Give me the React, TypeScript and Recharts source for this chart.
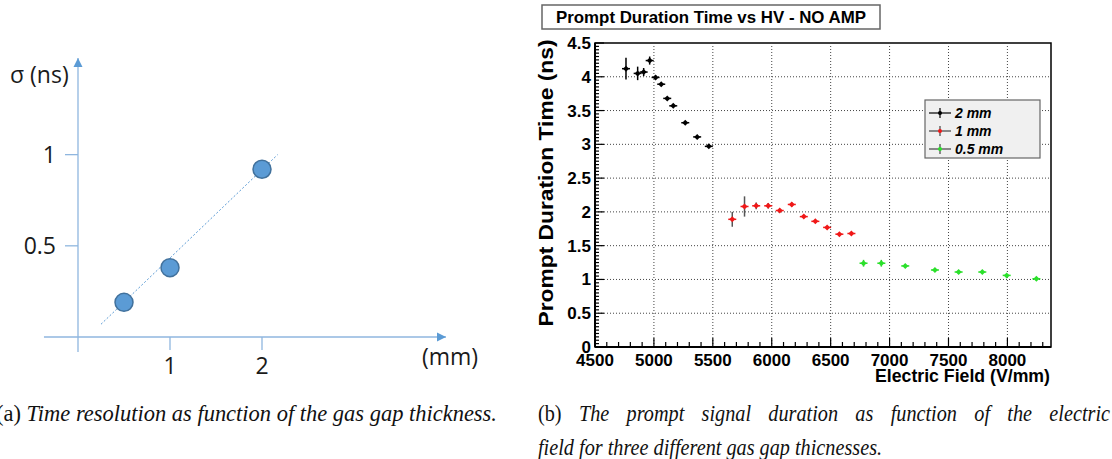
import React, { useLayoutEffect, useRef, useState } from "react";
import {
  ErrorBar,
  ReferenceArea,
  ReferenceDot,
  ReferenceLine,
  Scatter,
  ScatterChart,
  XAxis,
  YAxis,
} from "recharts";

// (a) time resolution vs gas gap thickness
const gapThickness = [0.5, 1, 2];
const timeResolution = [0.19, 0.38, 0.92];
const trendGap = [0.25, 2.17];
const trendSigma = [0.07, 1.0];
const gapTicks = [1, 2];
const sigmaTicks = [0.5, 1];

// (b) prompt duration vs electric field
const field2mm = [4763, 4862, 4913, 4964, 5014, 5062, 5113, 5164, 5266, 5367, 5466];
const time2mm = [4.12, 4.05, 4.07, 4.24, 3.99, 3.89, 3.68, 3.57, 3.32, 3.11, 2.97];
const err2mm = [0.16, 0.1, 0.06, 0.06, 0.03, 0.02, 0.02, 0.02, 0.02, 0.02, 0.02];

const field1mm = [5665, 5769, 5868, 5970, 6068, 6170, 6272, 6370, 6470, 6574, 6676];
const time1mm = [1.89, 2.08, 2.09, 2.09, 2.02, 2.11, 1.93, 1.86, 1.77, 1.67, 1.68];
const err1mm = [0.11, 0.15, 0.05, 0.04, 0.02, 0.03, 0.02, 0.02, 0.02, 0.02, 0.02];

const field05mm = [6779, 6930, 7133, 7385, 7586, 7787, 7994, 8246];
const time05mm = [1.24, 1.24, 1.2, 1.14, 1.11, 1.11, 1.06, 1.01];
const err05mm = [0.05, 0.05, 0.02, 0.02, 0.02, 0.02, 0.02, 0.02];

const fieldTicks = [4500, 5000, 5500, 6000, 6500, 7000, 7500, 8000];
const durationTicks = [0, 0.5, 1, 1.5, 2, 2.5, 3, 3.5, 4, 4.5];
const fieldMax = 8370;

const series = [
  { name: "2 mm", field: field2mm, time: time2mm, err: err2mm, color: "#000000", bar: "#000000" },
  { name: "1 mm", field: field1mm, time: time1mm, err: err1mm, color: "#f01818", bar: "#555555" },
  { name: "0.5 mm", field: field05mm, time: time05mm, err: err05mm, color: "#2be02b", bar: "#2bd02b" },
];

// minor ticks for the ROOT style axes
const fieldMinor: number[] = [];
for (let v = 4500; v <= 8300; v += 100) fieldMinor.push(v);
const durationMinor: number[] = [];
for (let i = 0; i <= 90; i++) durationMinor.push(Math.round(i * 5) / 100);

const gapData = gapThickness.map((g, i) => ({ gap: g, sigma: timeResolution[i] }));

const excelBlue = "#5b9bd5";
const excelAxis = "#8fb6df";
const rootFont = "'Liberation Sans', Arial, sans-serif";
const captionFont = "'Liberation Serif', 'Times New Roman', serif";
const captionScale = 0.88;

const FieldTick = (props: any) => {
  const { x, y, payload } = props;
  const v = payload.value;
  const major = fieldTicks.includes(v);
  return (
    <g>
      <line x1={x} x2={x} y1={y} y2={y - (major ? 9 : 5)} stroke="#000" strokeWidth={1.2} />
      {major && (
        <text x={x} y={y + 19} textAnchor="middle" fontFamily={rootFont} fontWeight="bold" fontSize={17} fill="#000">
          {v}
        </text>
      )}
    </g>
  );
};

const DurationTick = (props: any) => {
  const { x, y, payload } = props;
  const v = payload.value;
  const major = durationTicks.some((t) => Math.abs(t - v) < 1e-6);
  return (
    <g>
      <line x1={x} x2={x + (major ? 9 : 4)} y1={y} y2={y} stroke="#000" strokeWidth={1.2} />
      {major && (
        <text x={x - 4} y={y + 6} textAnchor="end" fontFamily={rootFont} fontWeight="bold" fontSize={17} fill="#000">
          {v}
        </text>
      )}
    </g>
  );
};

const Marker = ({ cx, cy, fill }: any) => (
  <g>
    <line x1={cx - 4} x2={cx + 4} y1={cy} y2={cy} stroke={fill} strokeWidth={1.5} />
    <path d={`M${cx} ${cy - 3}L${cx + 3} ${cy}L${cx} ${cy + 3}L${cx - 3} ${cy}Z`} fill={fill} />
  </g>
);

// caption line: "fit" squeezes the glyphs into width, "justify" widens word gaps only
const Caption = ({ x, y, width, mode, children }: any) => {
  const ref = useRef<SVGTextElement>(null);
  const [wordGap, setWordGap] = useState(0);
  useLayoutEffect(() => {
    if (mode !== "justify" || !ref.current) return;
    const natural = ref.current.getComputedTextLength();
    const spaces = ((ref.current.textContent || "").match(/ /g) || []).length;
    if (spaces > 0) setWordGap((width / captionScale - natural) / spaces);
  }, [width, mode]);
  const fit = mode === "fit" ? { textLength: width / captionScale, lengthAdjust: "spacingAndGlyphs" } : {};
  return (
    <text
      ref={ref}
      transform={`translate(${x} ${y}) scale(${captionScale} 1)`}
      style={{ wordSpacing: wordGap }}
      fontFamily={captionFont}
      fontStyle="italic"
      fontSize={23}
      fill="#111"
      {...fit}
    >
      {children}
    </text>
  );
};

const App = () => {
  return (
    <div style={{ position: "absolute", left: 0, top: 0, width: 1112, height: 459, background: "#fff", overflow: "hidden" }}>
      {/* (a) */}
      <div style={{ position: "absolute", left: 0, top: 0 }}>
        <ScatterChart width={480} height={400} margin={{ top: 58, right: 34, bottom: 23, left: 18 }}>
          <XAxis
            type="number"
            dataKey="gap"
            domain={[0, 4]}
            ticks={gapTicks}
            height={40}
            axisLine={false}
            tickLine={{ stroke: excelAxis, strokeWidth: 1.3 }}
            tickSize={13}
            tickMargin={8}
            tick={{ fontFamily: "'Open Sans', sans-serif", fontSize: 23, fill: "#1a1a1a" }}
          />
          <YAxis
            type="number"
            dataKey="sigma"
            domain={[0, 1.53]}
            ticks={sigmaTicks}
            width={60}
            axisLine={false}
            tickLine={{ stroke: excelAxis, strokeWidth: 1.3 }}
            tickSize={13}
            tickMargin={9}
            tick={{ fontFamily: "'Open Sans', sans-serif", fontSize: 23, fill: "#1a1a1a" }}
          />
          <ReferenceLine
            segment={[{ x: -0.37, y: 0 }, { x: 4, y: 0 }]}
            stroke={excelAxis}
            strokeWidth={1.3}
            ifOverflow="visible"
          />
          <ReferenceLine
            segment={[{ x: 0, y: -0.082 }, { x: 0, y: 1.53 }]}
            stroke={excelAxis}
            strokeWidth={1.3}
            ifOverflow="visible"
          />
          <ReferenceDot
            x={4}
            y={0}
            ifOverflow="visible"
            shape={(p: any) => (
              <path d={`M${p.cx} ${p.cy}L${p.cx - 9} ${p.cy - 4.5}L${p.cx - 9} ${p.cy + 4.5}Z`} fill={excelBlue} />
            )}
          />
          <ReferenceDot
            x={0}
            y={1.53}
            ifOverflow="visible"
            shape={(p: any) => (
              <path d={`M${p.cx} ${p.cy}L${p.cx - 4.5} ${p.cy + 9}L${p.cx + 4.5} ${p.cy + 9}Z`} fill={excelBlue} />
            )}
          />
          <ReferenceLine
            segment={[
              { x: trendGap[0], y: trendSigma[0] },
              { x: trendGap[1], y: trendSigma[1] },
            ]}
            stroke={excelBlue}
            strokeWidth={1}
            strokeDasharray="2 2"
          />
          <Scatter
            data={gapData}
            isAnimationActive={false}
            shape={(p: any) => (
              <circle cx={p.cx} cy={p.cy} r={9} fill={excelBlue} stroke="#41719c" strokeWidth={1.5} />
            )}
          />
        </ScatterChart>
      </div>

      {/* (b) */}
      <div style={{ position: "absolute", left: 520, top: 0 }}>
        <ScatterChart width={560} height={400} margin={{ top: 43, right: 29, bottom: 13, left: 15 }}>
          <XAxis
            type="number"
            dataKey="field"
            domain={[4500, fieldMax]}
            ticks={fieldMinor}
            interval={0}
            height={40}
            tickSize={0}
            tickMargin={0}
            tickLine={false}
            axisLine={{ stroke: "#000", strokeWidth: 2 }}
            tick={(p: any) => <FieldTick {...p} />}
          />
          <YAxis
            type="number"
            dataKey="time"
            domain={[0, 4.5]}
            ticks={durationMinor}
            interval={0}
            width={60}
            tickSize={0}
            tickMargin={0}
            tickLine={false}
            axisLine={{ stroke: "#000", strokeWidth: 2 }}
            tick={(p: any) => <DurationTick {...p} />}
          />
          {fieldTicks.slice(1).map((v) => (
            <ReferenceLine key={`gx${v}`} x={v} stroke="#444" strokeWidth={1} strokeDasharray="1 2" />
          ))}
          {durationTicks.slice(1, -1).map((v) => (
            <ReferenceLine key={`gy${v}`} y={v} stroke="#444" strokeWidth={1} strokeDasharray="1 2" />
          ))}
          <ReferenceArea x1={4500} x2={fieldMax} y1={0} y2={4.5} fill="none" fillOpacity={0} stroke="#000" strokeWidth={1.5} />
          {series.map((s) => (
            <Scatter
              key={s.name}
              name={s.name}
              data={s.field.map((f, i) => ({ field: f, time: s.time[i], err: s.err[i] }))}
              isAnimationActive={false}
              shape={(p: any) => <Marker cx={p.cx} cy={p.cy} fill={s.color} />}
            >
              <ErrorBar dataKey="err" direction="y" width={0} stroke={s.bar} strokeWidth={1.5} isAnimationActive={false} />
            </Scatter>
          ))}
        </ScatterChart>
      </div>

      {/* text overlay */}
      <svg width={1112} height={459} style={{ position: "absolute", left: 0, top: 0, pointerEvents: "none" }}>
        <text x={10} y={83} fontFamily="'Open Sans', sans-serif" fontSize={23} fill="#1a1a1a">
          σ (ns)
        </text>
        <text x={422} y={365} fontFamily="'Open Sans', sans-serif" fontSize={23} fill="#1a1a1a">
          (mm)
        </text>

        <rect x={542} y={5} width={338} height={24} fill="#fff" stroke="#666" strokeWidth={1.5} />
        <text
          x={711}
          y={23}
          textAnchor="middle"
          fontFamily={rootFont}
          fontWeight="bold"
          fontSize={17}
          textLength={310}
          lengthAdjust="spacingAndGlyphs"
        >
          Prompt Duration Time vs HV - NO AMP
        </text>
        <text
          x={553}
          y={183}
          transform="rotate(-90 553 183)"
          textAnchor="middle"
          fontFamily={rootFont}
          fontWeight="bold"
          fontSize={21}
          textLength={287}
          lengthAdjust="spacingAndGlyphs"
        >
          Prompt Duration Time (ns)
        </text>
        <text
          x={1050}
          y={382}
          textAnchor="end"
          fontFamily={rootFont}
          fontWeight="bold"
          fontSize={18}
          textLength={175}
          lengthAdjust="spacingAndGlyphs"
        >
          Electric Field (V/mm)
        </text>

        <rect x={925} y={100} width={115} height={58} fill="#f0f0f0" stroke="#666" strokeWidth={1.2} />
        {series.map((s, i) => {
          const cy = 113 + i * 18;
          return (
            <g key={s.name}>
              <line x1={929} x2={951} y1={cy} y2={cy} stroke={i === 0 ? "#000" : "#444"} strokeWidth={1.2} />
              <line x1={940} x2={940} y1={cy - 5} y2={cy + 5} stroke={i === 0 ? "#000" : "#444"} strokeWidth={1.2} />
              <circle cx={940} cy={cy} r={2} fill={s.color} />
              <text x={955} y={cy + 5} fontFamily={rootFont} fontWeight="bold" fontStyle="italic" fontSize={14}>
                {s.name}
              </text>
            </g>
          );
        })}

        <Caption x={-4} y={421} width={501} mode="fit">
          <tspan fontStyle="normal">(a)</tspan> Time resolution as function of the gas gap thickness.
        </Caption>
        <Caption x={538} y={421} width={572} mode="justify">
          <tspan fontStyle="normal">(b)</tspan> The prompt signal duration as function of the electric
        </Caption>
        <Caption x={538} y={455}>
          field for three different gas gap thicnesses.
        </Caption>
      </svg>
    </div>
  );
};

export default App;
